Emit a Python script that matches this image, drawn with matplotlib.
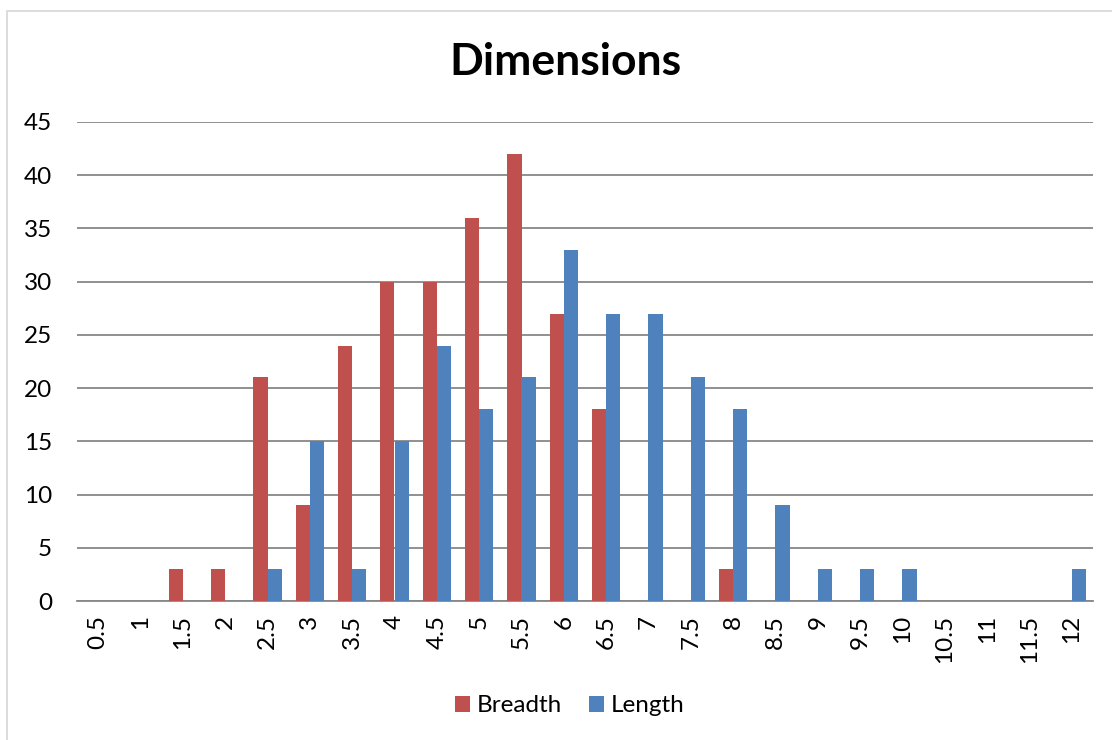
import matplotlib
matplotlib.use("Agg")
import matplotlib.pyplot as plt
import numpy as np
from matplotlib.patches import Rectangle

categories = ["0.5", "1", "1.5", "2", "2.5", "3", "3.5", "4", "4.5", "5", "5.5", "6",
              "6.5", "7", "7.5", "8", "8.5", "9", "9.5", "10", "10.5", "11", "11.5", "12"]
breadth = [0, 0, 3, 3, 21, 9, 24, 30, 30, 36, 42, 27, 18, 0, 0, 3, 0, 0, 0, 0, 0, 0, 0, 0]
length = [0, 0, 0, 0, 3, 15, 3, 15, 24, 18, 21, 33, 27, 27, 21, 18, 9, 3, 3, 3, 0, 0, 0, 3]
y_ticks = [0, 5, 10, 15, 20, 25, 30, 35, 40, 45]

plt.rcParams["font.family"] = ["Lato", "DejaVu Sans"]

W, H = 1112, 740
fig = plt.figure(figsize=(W / 100, H / 100), dpi=100)
fig.patch.set_facecolor("white")

# light chart-area border
fig.patches.append(Rectangle((7 / W, -0.01), 1.02, 1 - 11 / H + 0.01,
                             transform=fig.transFigure, fill=False,
                             edgecolor="#D9D9D9", linewidth=1.3, zorder=0))

ax = fig.add_axes([77 / W, (H - 601) / H, (1093 - 77) / W, (601 - 122) / H])

x = np.arange(len(categories))
bw = 1 / 3
ax.bar(x - bw / 2, breadth, width=bw, color="#C0504D", label="Breadth", zorder=3)
ax.bar(x + bw / 2, length, width=bw, color="#4F81BD", label="Length", zorder=3)

ax.set_xlim(-0.5, len(categories) - 0.5)
ax.set_ylim(0, 45)
ax.set_yticks(y_ticks)
ax.set_yticklabels([str(v) for v in y_ticks], fontsize=17.5)
ax.set_xticks(x)
ax.set_xticklabels(categories, rotation=90, fontsize=17.5)
ax.tick_params(axis="both", length=0, colors="black")
ax.tick_params(axis="x", pad=10)
ax.tick_params(axis="y", pad=18)

ax.grid(axis="y", color="#878787", linewidth=1.3, zorder=0)
for s in ["top", "right", "left"]:
    ax.spines[s].set_visible(False)
ax.spines["bottom"].set_color("#878787")
ax.spines["bottom"].set_linewidth(1.3)

fig.text(565 / W, 1 - 62 / H, "Dimensions", ha="center", va="center",
         fontsize=32, fontweight="bold")

fig.legend(loc="center", bbox_to_anchor=(570 / W, 1 - 706 / H), ncol=2,
           frameon=False, fontsize=17.5, handlelength=0.6, handleheight=0.6,
           handletextpad=0.3, columnspacing=1.1)

fig.savefig("out.png", dpi=100, facecolor="white")
